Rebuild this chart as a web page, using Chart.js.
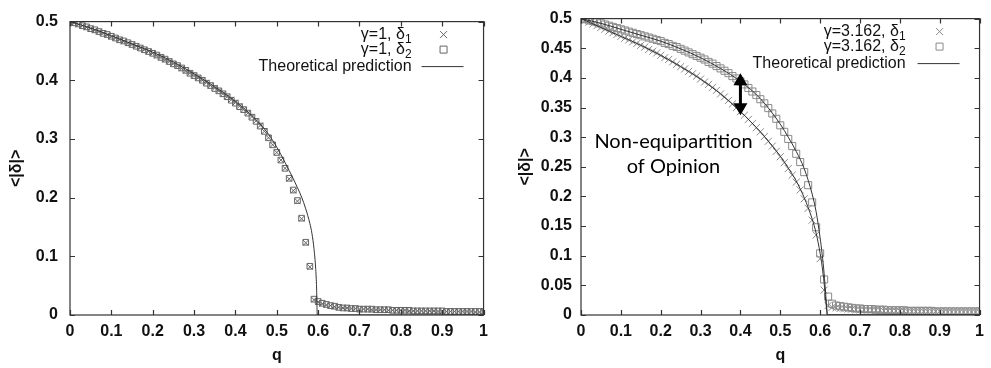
<!DOCTYPE html>
<html>
<head>
<meta charset="utf-8">
<script src="https://cdn.jsdelivr.net/npm/chart.js@4.4.1/dist/chart.umd.min.js"></script>
<style>
  body { margin: 0; background: #fff; }
  #wrap { position: relative; width: 991px; height: 368px; }
  canvas { position: absolute; top: 0; }
</style>
</head>
<body>
<div id="wrap">
  <canvas id="leftPanel"  width="495" height="368" style="left:0"></canvas>
  <canvas id="rightPanel" width="496" height="368" style="left:495px"></canvas>
</div>
<script>
// =============================================
// DATA
// =============================================

// simulation points, q = 0 .. 1 step 0.01
const qSim = [
  0.00,0.01,0.02,0.03,0.04,0.05,0.06,0.07,0.08,0.09,
  0.10,0.11,0.12,0.13,0.14,0.15,0.16,0.17,0.18,0.19,
  0.20,0.21,0.22,0.23,0.24,0.25,0.26,0.27,0.28,0.29,
  0.30,0.31,0.32,0.33,0.34,0.35,0.36,0.37,0.38,0.39,
  0.40,0.41,0.42,0.43,0.44,0.45,0.46,0.47,0.48,0.49,
  0.50,0.51,0.52,0.53,0.54,0.55,0.56,0.57,0.58,0.59,
  0.60,0.61,0.62,0.63,0.64,0.65,0.66,0.67,0.68,0.69,
  0.70,0.71,0.72,0.73,0.74,0.75,0.76,0.77,0.78,0.79,
  0.80,0.81,0.82,0.83,0.84,0.85,0.86,0.87,0.88,0.89,
  0.90,0.91,0.92,0.93,0.94,0.95,0.96,0.97,0.98,0.99,
  1.00
];

// left panel, gamma = 1
const leftDelta1 = [
  0.500,0.498,0.495,0.493,0.490,0.488,0.485,0.483,0.480,0.477,
  0.474,0.472,0.469,0.466,0.463,0.461,0.458,0.455,0.452,0.449,
  0.446,0.442,0.439,0.435,0.432,0.428,0.424,0.420,0.416,0.412,
  0.408,0.404,0.400,0.396,0.391,0.387,0.382,0.377,0.372,0.367,
  0.362,0.356,0.350,0.344,0.338,0.331,0.323,0.313,0.302,0.290,
  0.277,0.264,0.250,0.232,0.212,0.194,0.164,0.123,0.082,0.026,
  0.022,0.019,0.017,0.016,0.014,0.013,0.012,0.012,0.011,0.011,
  0.010,0.010,0.010,0.009,0.009,0.009,0.009,0.008,0.008,0.008,
  0.008,0.008,0.007,0.007,0.007,0.007,0.007,0.007,0.007,0.006,
  0.006,0.006,0.006,0.006,0.006,0.006,0.006,0.006,0.005,0.005,
  0.005
];
const leftDelta2 = [
  0.500,0.498,0.496,0.493,0.491,0.488,0.486,0.483,0.480,0.478,
  0.475,0.472,0.469,0.467,0.464,0.461,0.458,0.455,0.452,0.449,
  0.446,0.443,0.439,0.436,0.432,0.428,0.425,0.421,0.417,0.412,
  0.408,0.404,0.400,0.395,0.391,0.386,0.382,0.377,0.372,0.366,
  0.361,0.355,0.350,0.344,0.337,0.330,0.322,0.313,0.302,0.290,
  0.277,0.264,0.250,0.233,0.213,0.195,0.165,0.124,0.083,0.027,
  0.023,0.020,0.018,0.016,0.015,0.013,0.012,0.012,0.011,0.011,
  0.010,0.010,0.010,0.010,0.009,0.009,0.009,0.009,0.008,0.008,
  0.008,0.008,0.008,0.007,0.007,0.007,0.007,0.007,0.007,0.007,
  0.007,0.006,0.006,0.006,0.006,0.006,0.006,0.006,0.006,0.006,
  0.006
];
const leftTheoryQ = [0,0.05,0.1,0.15,0.2,0.25,0.3,0.35,0.4,0.45,0.48,0.5,0.52,0.54,0.55,0.56,0.57,0.58,0.585,0.59,0.594,0.596,0.598,1];
const leftTheory  = [0.5,0.489,0.476,0.462,0.448,0.431,0.411,0.389,0.364,0.333,0.308,0.286,0.260,0.232,0.217,0.201,0.181,0.156,0.139,0.113,0.080,0.052,0,0];

// right panel, gamma = 3.162
const rightDelta1 = [
  0.500,0.497,0.494,0.491,0.488,0.485,0.482,0.479,0.476,0.473,
  0.470,0.467,0.464,0.461,0.458,0.455,0.452,0.448,0.445,0.442,
  0.438,0.434,0.431,0.427,0.423,0.419,0.415,0.411,0.407,0.403,
  0.398,0.393,0.389,0.384,0.379,0.373,0.368,0.362,0.356,0.350,
  0.343,0.337,0.330,0.323,0.316,0.309,0.301,0.293,0.285,0.276,
  0.267,0.257,0.247,0.236,0.224,0.211,0.196,0.180,0.160,0.135,
  0.095,0.042,0.016,0.013,0.012,0.011,0.011,0.010,0.010,0.009,
  0.009,0.009,0.008,0.008,0.008,0.008,0.007,0.007,0.007,0.007,
  0.007,0.007,0.006,0.006,0.006,0.006,0.006,0.006,0.006,0.006,
  0.006,0.005,0.005,0.005,0.005,0.005,0.005,0.005,0.005,0.005,
  0.005
];
const rightDelta2 = [
  0.500,0.499,0.497,0.496,0.494,0.492,0.490,0.488,0.486,0.484,
  0.482,0.480,0.478,0.476,0.474,0.472,0.470,0.468,0.466,0.464,
  0.462,0.459,0.457,0.454,0.452,0.449,0.446,0.443,0.440,0.437,
  0.434,0.431,0.427,0.424,0.420,0.416,0.412,0.408,0.403,0.399,
  0.394,0.389,0.383,0.377,0.371,0.364,0.357,0.349,0.340,0.331,
  0.320,0.309,0.297,0.285,0.272,0.258,0.241,0.219,0.190,0.148,
  0.104,0.060,0.031,0.019,0.016,0.015,0.014,0.013,0.012,0.011,
  0.011,0.010,0.010,0.010,0.009,0.009,0.009,0.008,0.008,0.008,
  0.008,0.008,0.007,0.007,0.007,0.007,0.007,0.007,0.007,0.006,
  0.006,0.006,0.006,0.006,0.006,0.006,0.006,0.006,0.006,0.006,
  0.006
];
const rightTheoryQ  = [0,0.05,0.1,0.15,0.2,0.25,0.3,0.35,0.4,0.45,0.5,0.52,0.54,0.56,0.58,0.59,0.6,0.605,0.61,0.614,0.617,0.618,1];
const rightTheoryUp = [0.5,0.492,0.482,0.472,0.462,0.449,0.434,0.416,0.394,0.365,0.322,0.300,0.276,0.247,0.204,0.174,0.130,0.103,0.070,0.035,0.008,0,0];
const rightTheoryLo = [0.5,0.485,0.470,0.455,0.438,0.419,0.398,0.373,0.343,0.309,0.268,0.248,0.226,0.198,0.162,0.138,0.104,0.082,0.054,0.024,0.006,0,0];

// labels
const leftKey  = [["γ=1, δ", "1"], ["γ=1, δ", "2"], ["Theoretical prediction", ""]];
const rightKey = [["γ=3.162, δ", "1"], ["γ=3.162, δ", "2"], ["Theoretical prediction", ""]];
const noteLines = ["Non-equipartition", "of Opinion"];
const noteAt    = { q: 0.232, v: [0.292, 0.25] };
const arrowAt   = { q: 0.4, from: 0.337, to: 0.408 };

// =============================================
// HELPERS
// =============================================

const pts = (xs, ys) => xs.map((x, i) => ({ x, y: ys[i] }));
const fmt = v => String(+Number(v).toFixed(3));

const LINE = "#333";
const TICK_FONT = { family: "'Liberation Sans', Arial, sans-serif", size: 16, weight: "bold" };

// gnuplot-like frame with inward ticks on all four sides
const framePlugin = {
  id: "frame",
  afterDraw(chart) {
    const { ctx, chartArea: a, scales: { x, y } } = chart;
    ctx.save();
    ctx.strokeStyle = LINE;
    ctx.lineWidth = 1.2;
    ctx.strokeRect(a.left, a.top, a.right - a.left, a.bottom - a.top);
    ctx.beginPath();
    x.ticks.forEach(t => {
      const px = Math.round(x.getPixelForValue(t.value)) + 0.5;
      ctx.moveTo(px, a.bottom); ctx.lineTo(px, a.bottom - 5);
      ctx.moveTo(px, a.top);    ctx.lineTo(px, a.top + 5);
    });
    y.ticks.forEach(t => {
      const py = Math.round(y.getPixelForValue(t.value)) + 0.5;
      ctx.moveTo(a.left, py);  ctx.lineTo(a.left + 5, py);
      ctx.moveTo(a.right, py); ctx.lineTo(a.right - 5, py);
    });
    ctx.stroke();
    ctx.restore();
  }
};

// key in the top right corner: text right-aligned, symbol after it
const keyPlugin = {
  id: "key",
  afterDraw(chart, args, opts) {
    if (!opts.rows) return;
    const { ctx, chartArea: a } = chart;
    const textRight = a.right - opts.textGap;
    const symX = a.right - 40;
    const rowsY = [a.top + 13, a.top + 28, a.top + 45];
    ctx.save();
    ctx.fillStyle = "#111";
    ctx.textBaseline = "middle";
    ctx.textAlign = "right";
    opts.rows.forEach(([main, sub], i) => {
      const yy = rowsY[i];
      let right = textRight;
      if (sub) {
        ctx.font = "12px 'Liberation Sans', Arial, sans-serif";
        ctx.fillText(sub, right, yy + 5);
        right -= ctx.measureText(sub).width;
      }
      ctx.font = "16px 'Liberation Sans', Arial, sans-serif";
      ctx.fillText(main, right, yy);

      ctx.strokeStyle = i === 2 ? LINE : opts.markColor;
      ctx.lineWidth = 1;
      ctx.beginPath();
      if (i === 0) {
        ctx.moveTo(symX - 3.5, yy - 3.5); ctx.lineTo(symX + 3.5, yy + 3.5);
        ctx.moveTo(symX - 3.5, yy + 3.5); ctx.lineTo(symX + 3.5, yy - 3.5);
      } else if (i === 1) {
        ctx.rect(symX - 3.5, yy - 3.5, 7, 7);
      } else {
        ctx.moveTo(a.right - 62, yy); ctx.lineTo(a.right - 20, yy);
      }
      ctx.stroke();
    });
    ctx.restore();
  }
};

// double arrow and the text in the right panel
const notePlugin = {
  id: "note",
  afterDraw(chart, args, opts) {
    if (!opts.show) return;
    const { ctx, scales: { x, y } } = chart;
    const ax = x.getPixelForValue(arrowAt.q);
    const yTop = y.getPixelForValue(arrowAt.to);
    const yBot = y.getPixelForValue(arrowAt.from);
    ctx.save();
    ctx.fillStyle = "#000";
    ctx.strokeStyle = "#000";
    ctx.lineWidth = 3;
    ctx.beginPath();
    ctx.moveTo(ax, yTop + 8); ctx.lineTo(ax, yBot - 8);
    ctx.stroke();
    ctx.beginPath();
    ctx.moveTo(ax, yTop); ctx.lineTo(ax - 7, yTop + 12); ctx.lineTo(ax + 7, yTop + 12); ctx.closePath();
    ctx.moveTo(ax, yBot); ctx.lineTo(ax - 7, yBot - 12); ctx.lineTo(ax + 7, yBot - 12); ctx.closePath();
    ctx.fill();

    ctx.font = "20px Lato, 'Open Sans', sans-serif";
    ctx.textAlign = "center";
    ctx.textBaseline = "middle";
    const tx = x.getPixelForValue(noteAt.q);
    noteLines.forEach((t, i) => ctx.fillText(t, tx, y.getPixelForValue(noteAt.v[i])));
    ctx.restore();
  }
};

function makePanel(canvasId, p) {
  return new Chart(document.getElementById(canvasId), {
    type: "scatter",
    data: {
      datasets: [
        ...p.theory.map(t => ({
          data: t, showLine: true, pointRadius: 0,
          borderColor: LINE, borderWidth: 1, cubicInterpolationMode: "monotone"
        })),
        {
          data: p.delta1, pointStyle: "crossRot", pointRadius: p.radius,
          borderColor: p.markColor, borderWidth: 1, backgroundColor: "transparent"
        },
        {
          data: p.delta2, pointStyle: "rect", pointRadius: p.radius,
          borderColor: p.markColor, borderWidth: 1, backgroundColor: "transparent"
        }
      ]
    },
    options: {
      responsive: false,
      animation: false,
      events: [],
      layout: { padding: { left: 0, right: p.padRight, top: 15, bottom: 0 } },
      plugins: {
        legend: { display: false },
        tooltip: { enabled: false },
        key: { rows: p.key, textGap: p.textGap, markColor: p.markColor },
        note: { show: p.note }
      },
      scales: {
        x: {
          type: "linear", min: 0, max: 1,
          grid: { display: false, drawTicks: false },
          border: { display: false },
          ticks: { stepSize: 0.1, padding: 7, color: "#111", font: TICK_FONT, callback: fmt, maxRotation: 0 },
          title: { display: true, text: "q", color: "#111", font: TICK_FONT, padding: { top: 0, bottom: 3 } },
          afterFit(s) { s.height = 53; }
        },
        y: {
          type: "linear", min: 0, max: 0.5,
          grid: { display: false, drawTicks: false },
          border: { display: false },
          ticks: { stepSize: p.yStep, padding: p.yPad, color: "#111", font: TICK_FONT, callback: fmt },
          title: { display: true, text: "<|δ|>", color: "#111", font: TICK_FONT, padding: { top: p.titlePad, bottom: 0 } },
          afterFit(s) { s.width = p.yWidth; }
        }
      }
    },
    plugins: [framePlugin, keyPlugin, notePlugin]
  });
}

makePanel("leftPanel", {
  theory: [pts(leftTheoryQ, leftTheory)],
  delta1: pts(qSim, leftDelta1),
  delta2: pts(qSim, leftDelta2),
  markColor: "#666", radius: 4,
  key: leftKey, textGap: 72, note: false,
  padRight: 8, yWidth: 70, yStep: 0.1, yPad: 12, titlePad: 7
});

makePanel("rightPanel", {
  theory: [pts(rightTheoryQ, rightTheoryUp), pts(rightTheoryQ, rightTheoryLo)],
  delta1: pts(qSim, rightDelta1),
  delta2: pts(qSim, rightDelta2),
  markColor: "#8a8a8a", radius: 5,
  key: rightKey, textGap: 74, note: true,
  padRight: 4, yWidth: 86, yStep: 0.05, yPad: 9, titlePad: 21
});
</script>
</body>
</html>
